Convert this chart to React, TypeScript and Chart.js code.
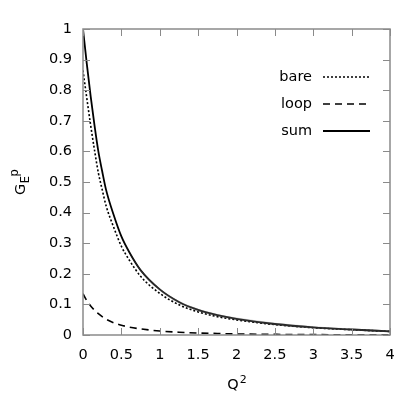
import React, { useEffect, useRef } from "react";
import { Chart, registerables } from "chart.js";

Chart.register(...registerables);

// ---- data ----
const q2Values = [0, 0.05, 0.1, 0.15, 0.2, 0.25, 0.3, 0.4, 0.5, 0.6, 0.75, 1.0, 1.25, 1.5, 1.75, 2.0, 2.5, 3.0, 3.5, 4.0];
const bareValues = [0.865, 0.773, 0.685, 0.604, 0.53, 0.475, 0.423, 0.352, 0.29, 0.246, 0.192, 0.136, 0.099, 0.0755, 0.06, 0.0495, 0.034, 0.0238, 0.0172, 0.0115];
const loopValues = [0.135, 0.112, 0.095, 0.081, 0.07, 0.06, 0.052, 0.04, 0.032, 0.026, 0.02, 0.013, 0.009, 0.0065, 0.005, 0.0035, 0.002, 0.0012, 0.0008, 0.0005];
const sumValues = [1.0, 0.885, 0.78, 0.685, 0.6, 0.535, 0.475, 0.392, 0.322, 0.272, 0.212, 0.149, 0.108, 0.082, 0.065, 0.053, 0.036, 0.025, 0.018, 0.012];
const sumBandHigh = [1.0, 0.885, 0.78, 0.685, 0.6, 0.535, 0.475, 0.392, 0.322, 0.273, 0.215, 0.153, 0.112, 0.086, 0.069, 0.057, 0.04, 0.029, 0.021, 0.015];
const sumBandLow = [1.0, 0.885, 0.78, 0.685, 0.6, 0.535, 0.475, 0.392, 0.322, 0.271, 0.209, 0.145, 0.104, 0.078, 0.061, 0.049, 0.032, 0.021, 0.015, 0.009];
const seriesLabels = ["bare", "loop", "sum"];
const xTickValues = [0, 0.5, 1, 1.5, 2, 2.5, 3, 3.5, 4];
const yTickValues = [0, 0.1, 0.2, 0.3, 0.4, 0.5, 0.6, 0.7, 0.8, 0.9, 1];
const xTitleMain = "Q";
const xTitleSup = "2";
const yTitleMain = "G";
const yTitleSub = "E";
const yTitleSup = "p";

const FONT = "DejaVu Sans";
const FRAME = "#8a8a8a";

const toPoints = (ys: number[]) => q2Values.map((x, i) => ({ x, y: ys[i] }));

const decorPlugin = {
  id: "decor",
  afterDatasetsDraw(chart: any) {
    const { ctx, chartArea } = chart;
    const { left, right, top, bottom } = chartArea;
    const xs = chart.scales.x;
    const ys = chart.scales.y;
    const tl = 7;
    ctx.save();
    ctx.strokeStyle = FRAME;
    ctx.lineWidth = 1;
    ctx.beginPath();
    xTickValues.forEach((v) => {
      const px = Math.round(xs.getPixelForValue(v)) + 0.5;
      ctx.moveTo(px, bottom);
      ctx.lineTo(px, bottom - tl);
      ctx.moveTo(px, top);
      ctx.lineTo(px, top + tl);
    });
    yTickValues.forEach((v) => {
      const py = Math.round(ys.getPixelForValue(v)) + 0.5;
      ctx.moveTo(left, py);
      ctx.lineTo(left + tl, py);
      ctx.moveTo(right, py);
      ctx.lineTo(right - tl, py);
    });
    ctx.stroke();
    ctx.lineWidth = 1.5;
    ctx.strokeRect(left, top, right - left, bottom - top);

    // legend
    const rows = [
      { label: seriesLabels[0], dash: [2, 2], width: 1.6 },
      { label: seriesLabels[1], dash: [7, 5], width: 1.6 },
      { label: seriesLabels[2], dash: [], width: 1.8 },
    ];
    ctx.font = `14.5px '${FONT}'`;
    ctx.fillStyle = "#000";
    ctx.textAlign = "right";
    ctx.textBaseline = "middle";
    rows.forEach((r, i) => {
      const y = top + 48 + i * 27;
      ctx.fillText(r.label, right - 78, y);
      ctx.save();
      ctx.strokeStyle = "#000";
      ctx.lineWidth = r.width;
      ctx.setLineDash(r.dash);
      ctx.beginPath();
      ctx.moveTo(right - 67, y);
      ctx.lineTo(right - 20, y);
      ctx.stroke();
      ctx.restore();
    });

    // x title
    ctx.textAlign = "left";
    ctx.textBaseline = "alphabetic";
    ctx.font = `14.5px '${FONT}'`;
    const qW = ctx.measureText(xTitleMain).width;
    ctx.font = `11px '${FONT}'`;
    const sW = ctx.measureText(xTitleSup).width;
    const cx = (left + right) / 2;
    const xStart = cx - (qW + sW) / 2;
    const by = bottom + 54;
    ctx.font = `14.5px '${FONT}'`;
    ctx.fillText(xTitleMain, xStart, by);
    ctx.font = `11px '${FONT}'`;
    ctx.fillText(xTitleSup, xStart + qW + 1, by - 6);

    // y title (rotated)
    ctx.save();
    const cy = (top + bottom) / 2;
    ctx.translate(left - 58, cy);
    ctx.rotate(-Math.PI / 2);
    ctx.font = `14.5px '${FONT}'`;
    const gW = ctx.measureText(yTitleMain).width;
    ctx.font = `11.5px '${FONT}'`;
    const eW = ctx.measureText(yTitleSub).width;
    const pW = ctx.measureText(yTitleSup).width;
    const total = gW + eW + pW;
    const s = -total / 2;
    ctx.font = `14.5px '${FONT}'`;
    ctx.fillText(yTitleMain, s, 0);
    ctx.font = `11.5px '${FONT}'`;
    ctx.fillText(yTitleSub, s + gW + 0.5, 4);
    ctx.fillText(yTitleSup, s + gW + eW, -7);
    ctx.restore();

    ctx.restore();
  },
};

export default function App() {
  const ref = useRef<HTMLCanvasElement | null>(null);

  useEffect(() => {
    if (!ref.current) return;
    const chart = new Chart(ref.current, {
      type: "line",
      data: {
        datasets: [
          {
            label: "band-high",
            data: toPoints(sumBandHigh),
            borderWidth: 0,
            borderColor: "rgba(0,0,0,0)",
            backgroundColor: "rgba(120,120,120,0.35)",
            pointRadius: 0,
            fill: "+1",
            cubicInterpolationMode: "monotone",
          },
          {
            label: "band-low",
            data: toPoints(sumBandLow),
            borderWidth: 0,
            borderColor: "rgba(0,0,0,0)",
            pointRadius: 0,
            fill: false,
            cubicInterpolationMode: "monotone",
          },
          {
            label: seriesLabels[0],
            data: toPoints(bareValues),
            borderColor: "#000",
            borderWidth: 1.6,
            borderDash: [2, 2],
            pointRadius: 0,
            fill: false,
            cubicInterpolationMode: "monotone",
          },
          {
            label: seriesLabels[1],
            data: toPoints(loopValues),
            borderColor: "#000",
            borderWidth: 1.6,
            borderDash: [7, 5],
            pointRadius: 0,
            fill: false,
            cubicInterpolationMode: "monotone",
          },
          {
            label: seriesLabels[2],
            data: toPoints(sumValues),
            borderColor: "#000",
            borderWidth: 1.8,
            pointRadius: 0,
            fill: false,
            cubicInterpolationMode: "monotone",
          },
        ],
      },
      options: {
        responsive: false,
        animation: false,
        events: [],
        layout: { padding: { left: 0, top: 29, right: 29, bottom: 0 } },
        plugins: {
          legend: { display: false },
          tooltip: { enabled: false },
          title: { display: false },
        },
        scales: {
          x: {
            type: "linear",
            min: 0,
            max: 4,
            afterFit: (scale: any) => {
              scale.height = 84;
            },
            afterBuildTicks: (scale: any) => {
              scale.ticks = xTickValues.map((v) => ({ value: v }));
            },
            ticks: {
              font: { family: FONT, size: 14.5 },
              color: "#000",
              padding: 12,
              maxRotation: 0,
              callback: (v: any) => String(Number(Number(v).toFixed(1))),
            },
            grid: { display: false, drawTicks: false },
            border: { display: false },
          },
          y: {
            type: "linear",
            min: 0,
            max: 1,
            afterFit: (scale: any) => {
              scale.width = 83;
            },
            afterBuildTicks: (scale: any) => {
              scale.ticks = yTickValues.map((v) => ({ value: v }));
            },
            ticks: {
              font: { family: FONT, size: 14.5 },
              color: "#000",
              padding: 11,
              callback: (v: any) => String(Number(Number(v).toFixed(1))),
            },
            grid: { display: false, drawTicks: false },
            border: { display: false },
          },
        },
      },
      plugins: [decorPlugin],
    } as any);
    return () => chart.destroy();
  }, []);

  return (
    <div style={{ position: "absolute", left: 0, top: 0, width: 419, height: 419, background: "#fff" }}>
      <canvas ref={ref} width={419} height={419} style={{ display: "block" }} />
    </div>
  );
}
